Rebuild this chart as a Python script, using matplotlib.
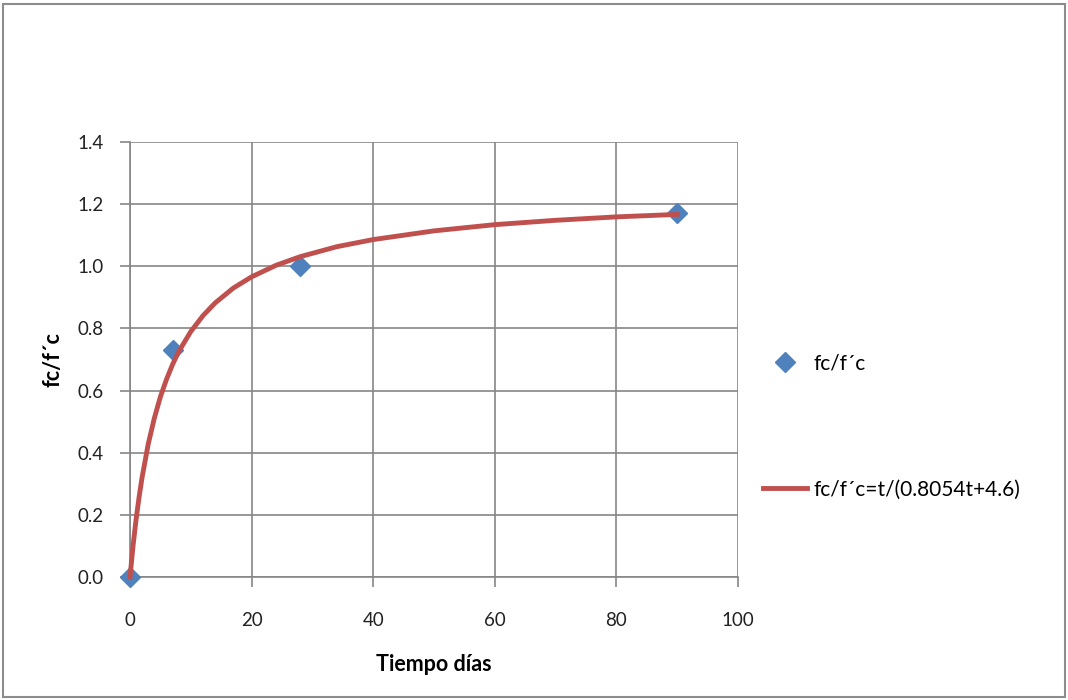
import matplotlib.pyplot as plt
from matplotlib.patches import Rectangle

# --- datos ---
dias = [0, 7, 28, 90]
fc_ratio = [0.0, 0.73, 1.0, 1.17]

# curva de ajuste
t_curva = [0, 0.5, 1, 1.5, 2, 3, 4, 5, 6, 7, 8, 10, 12, 14, 17, 20, 24, 28,
           34, 40, 50, 60, 70, 80, 90]
fc_curva = [0.0, 0.10, 0.185, 0.258, 0.322, 0.428, 0.511, 0.58, 0.636, 0.684,
            0.725, 0.79, 0.841, 0.882, 0.93, 0.966, 1.003, 1.031, 1.063, 1.086,
            1.114, 1.134, 1.148, 1.159, 1.167]

x_ticks = [0, 20, 40, 60, 80, 100]
y_ticks = [0.0, 0.2, 0.4, 0.6, 0.8, 1.0, 1.2, 1.4]

plt.rcParams['font.family'] = ['Lato', 'DejaVu Sans']

fig = plt.figure(figsize=(10.68, 7.0), dpi=100)
ax = fig.add_axes([130 / 1068, 1 - 577 / 700, 608 / 1068, 435 / 700])

gris = '#868686'
ax.plot(dias, fc_ratio, linestyle='none', marker='D', markersize=10,
        color='#4F81BD', label='fc/f´c', zorder=3, clip_on=False)
ax.plot(t_curva, fc_curva, color='#C0504D', linewidth=3.5,
        label='fc/f´c=t/(0.8054t+4.6)', zorder=4, clip_on=False)

ax.set_xlim(0, 100)
ax.set_ylim(0, 1.4)
ax.set_xticks(x_ticks)
ax.set_yticks(y_ticks)
ax.set_yticklabels([f'{v:.1f}' for v in y_ticks])
ax.grid(True, color=gris, linewidth=1.2)
ax.set_axisbelow(True)
for lado in ['top', 'right']:
    ax.spines[lado].set_visible(False)
for lado in ['left', 'bottom']:
    ax.spines[lado].set_color(gris)
    ax.spines[lado].set_linewidth(1.2)
ax.tick_params(axis='both', colors=gris, length=7, width=1.2, labelsize=13.5,
               labelcolor='#222222')
ax.tick_params(axis='x', pad=18)
ax.tick_params(axis='y', pad=12)

ax.set_xlabel('Tiempo días', fontsize=15.5, fontweight='bold', labelpad=18)
ax.set_ylabel('fc/f´c', fontsize=15.5, fontweight='bold', labelpad=10)

fig.legend(loc='upper left', bbox_to_anchor=(755 / 1068, 1 - 345 / 700),
           frameon=False, fontsize=15, labelspacing=5.1, handlelength=2.1,
           handletextpad=0.3, borderaxespad=0)

# marco exterior
fig.patches.append(Rectangle((3 / 1068, 3 / 700), 1 - 6 / 1068, 1 - 7 / 700,
                             transform=fig.transFigure, fill=False,
                             edgecolor='#8c8c8c', linewidth=1.5))

fig.savefig('out.png', dpi=100)
